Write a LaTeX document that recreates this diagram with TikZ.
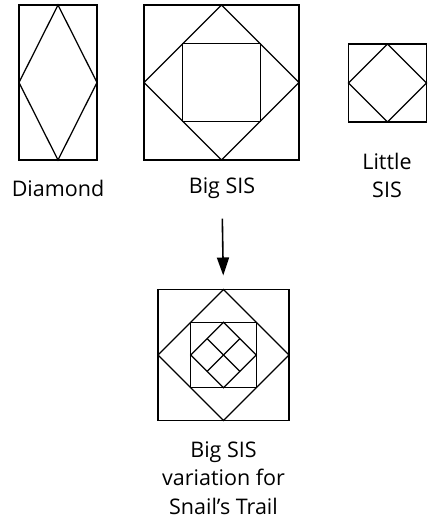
\documentclass[tikz,border=0pt]{standalone}
\usepackage{fontspec}
\setmainfont{Open Sans}
\usetikzlibrary{positioning,arrows.meta,calc}

\begin{document}
\begin{tikzpicture}[x=1pt, y=-1pt,
  font=\fontsize{21.5}{28.5}\selectfont,
  every path/.style={line width=1.25pt},
  patch/.style={draw, line width=1.25pt, inner sep=0pt, outer sep=0pt},
  lbl/.style={align=center, inner sep=0pt},
  down/.style={-{Triangle[length=18pt,width=12pt]}, line width=1.6pt, shorten <=19pt, shorten >=14pt}
]
\useasboundingbox (0,0) rectangle (434,519);

% Top row: the three blocks
\node[patch, minimum width=78pt, minimum height=155pt] (diam) at (58,82.5) {};
\draw (diam.north) -- (diam.east) -- (diam.south) -- (diam.west) -- cycle;

\node[patch, minimum size=155pt] (big) at (221.5,82.5) {};
\draw (big.north) -- (big.east) -- (big.south) -- (big.west) -- cycle;
\node[patch, minimum size=77.5pt] (bigin) at (big.center) {};

\node[patch, minimum size=78pt] (little) at (387.5,83) {};
\draw (little.north) -- (little.east) -- (little.south) -- (little.west) -- cycle;

% Labels under the top row
\node[lbl] (diamlbl) at (58,188.5) {Diamond};
\node[lbl] (biglbl) at (222,188.5) {Big SIS};
\node[lbl] (littlelbl) at (387,175.5) {Little\\SIS};

% Bottom: variation block
\node[patch, minimum size=131pt] (var) at (223.5,355) {};
\draw (var.north) -- (var.east) -- (var.south) -- (var.west) -- cycle;
\node[patch, minimum size=65.5pt] (varin) at (var.center) {};
\draw (varin.north) -- (varin.east) -- (varin.south) -- (varin.west) -- cycle;
\draw ($(varin.north)!0.5!(varin.west)$) -- ($(varin.south)!0.5!(varin.east)$);
\draw ($(varin.north)!0.5!(varin.east)$) -- ($(varin.south)!0.5!(varin.west)$);

\node[lbl] (varlbl) at (223.5,478) {Big SIS\\variation for\\Snail's Trail};

% Arrow from Big SIS down to the variation
\draw[down] (biglbl.south) -- (var.north);
\end{tikzpicture}
\end{document}
